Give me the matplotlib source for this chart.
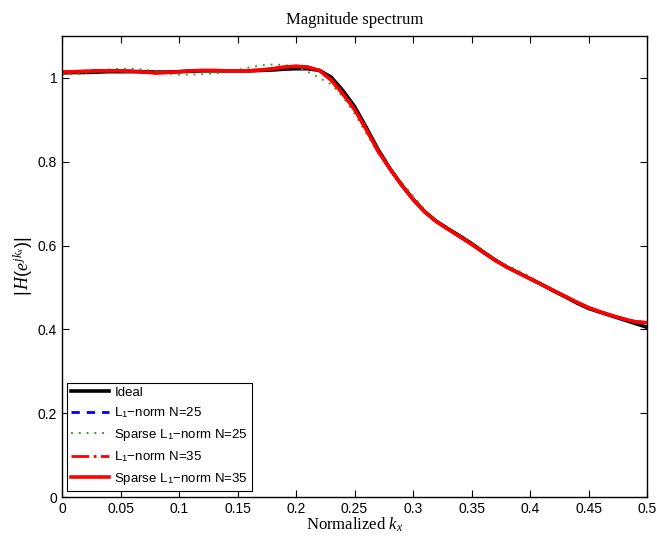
import matplotlib
matplotlib.use("Agg")
import matplotlib.pyplot as plt
import numpy as np

kx = [0.00, 0.01, 0.02, 0.03, 0.04, 0.05, 0.06, 0.07, 0.08, 0.09,
      0.10, 0.11, 0.12, 0.13, 0.14, 0.15, 0.16, 0.17, 0.18, 0.19,
      0.20, 0.21, 0.22, 0.23, 0.24, 0.25, 0.26, 0.27, 0.28, 0.29,
      0.30, 0.31, 0.32, 0.33, 0.34, 0.35, 0.36, 0.37, 0.38, 0.39,
      0.40, 0.41, 0.42, 0.43, 0.44, 0.45, 0.46, 0.47, 0.48, 0.49, 0.50]

ideal = [1.012, 1.013, 1.013, 1.014, 1.015, 1.015, 1.015, 1.015, 1.014, 1.014,
         1.015, 1.016, 1.017, 1.017, 1.017, 1.017, 1.017, 1.018, 1.019, 1.021,
         1.022, 1.022, 1.018, 1.002, 0.970, 0.932, 0.882, 0.830, 0.785, 0.746,
         0.711, 0.681, 0.658, 0.640, 0.623, 0.605, 0.585, 0.566, 0.549, 0.535,
         0.521, 0.507, 0.492, 0.478, 0.463, 0.450, 0.441, 0.432, 0.423, 0.414, 0.405]

l1_n25 = [1.014, 1.015, 1.016, 1.017, 1.017, 1.017, 1.016, 1.014, 1.012, 1.013,
          1.015, 1.017, 1.018, 1.018, 1.017, 1.017, 1.017, 1.019, 1.022, 1.026,
          1.028, 1.026, 1.018, 0.995, 0.962, 0.925, 0.877, 0.826, 0.784, 0.745,
          0.710, 0.680, 0.657, 0.639, 0.621, 0.603, 0.584, 0.565, 0.549, 0.535,
          0.521, 0.507, 0.493, 0.479, 0.465, 0.452, 0.442, 0.433, 0.425, 0.418, 0.416]

sparse_n25 = [1.008, 1.009, 1.012, 1.016, 1.020, 1.022, 1.022, 1.020, 1.016, 1.011,
              1.008, 1.008, 1.009, 1.011, 1.014, 1.019, 1.025, 1.030, 1.032, 1.031,
              1.026, 1.015, 1.000, 0.985, 0.955, 0.915, 0.868, 0.822, 0.785, 0.752,
              0.718, 0.686, 0.660, 0.640, 0.624, 0.608, 0.588, 0.568, 0.553, 0.540,
              0.526, 0.510, 0.494, 0.479, 0.464, 0.450, 0.440, 0.432, 0.425, 0.420, 0.418]

l1_n35 = [1.014, 1.015, 1.016, 1.017, 1.017, 1.017, 1.016, 1.014, 1.012, 1.013,
          1.015, 1.017, 1.018, 1.018, 1.017, 1.017, 1.017, 1.019, 1.022, 1.026,
          1.028, 1.026, 1.018, 0.995, 0.962, 0.925, 0.877, 0.826, 0.784, 0.745,
          0.710, 0.680, 0.657, 0.639, 0.621, 0.603, 0.584, 0.565, 0.549, 0.535,
          0.521, 0.507, 0.493, 0.479, 0.465, 0.452, 0.442, 0.433, 0.425, 0.418, 0.416]

sparse_n35 = [1.014, 1.015, 1.016, 1.017, 1.017, 1.017, 1.016, 1.014, 1.012, 1.013,
              1.015, 1.017, 1.018, 1.018, 1.017, 1.017, 1.017, 1.019, 1.022, 1.026,
              1.028, 1.026, 1.018, 0.995, 0.962, 0.925, 0.877, 0.826, 0.784, 0.745,
              0.710, 0.680, 0.657, 0.639, 0.621, 0.603, 0.584, 0.565, 0.549, 0.535,
              0.521, 0.507, 0.493, 0.479, 0.465, 0.452, 0.442, 0.433, 0.425, 0.418, 0.416]

labels = ["Ideal", r"L$_1$−norm N=25", r"Sparse L$_1$−norm N=25",
          r"L$_1$−norm N=35", r"Sparse L$_1$−norm N=35"]

xticks = [0, 0.05, 0.1, 0.15, 0.2, 0.25, 0.3, 0.35, 0.4, 0.45, 0.5]
xticklabels = ["0", "0.05", "0.1", "0.15", "0.2", "0.25", "0.3", "0.35", "0.4", "0.45", "0.5"]
yticks = [0, 0.2, 0.4, 0.6, 0.8, 1.0]
yticklabels = ["0", "0.2", "0.4", "0.6", "0.8", "1"]

plt.rcParams['font.family'] = ['Liberation Sans', 'DejaVu Sans']
plt.rcParams['mathtext.fontset'] = 'custom'
plt.rcParams['mathtext.rm'] = 'Liberation Sans'
plt.rcParams['mathtext.it'] = 'Liberation Serif:italic'

fig = plt.figure(figsize=(6.57, 5.38), dpi=100)
ax = fig.add_axes([0.0944, 0.0762, 0.8904, 0.8568])

ax.plot(kx, ideal, color='black', lw=2.6, label=labels[0])
ax.plot(kx, l1_n25, color='blue', lw=2.0, ls=(0, (3, 2.5)), label=labels[1])
ax.plot(kx, sparse_n25, color='#33a033', lw=1.4, ls=(0, (1, 3)), label=labels[2])
ax.plot(kx, l1_n35, color='red', lw=2.0, ls='-.', label=labels[3])
ax.plot(kx, sparse_n35, color='red', lw=2.6, label=labels[4])

ax.set_xlim(0, 0.5)
ax.set_ylim(0, 1.1)
ax.set_xticks(xticks)
ax.set_xticklabels(xticklabels)
ax.set_yticks(yticks)
ax.set_yticklabels(yticklabels)
ax.tick_params(direction='in', top=True, right=True, labelsize=10, length=5, width=0.8)
for s in ax.spines.values():
    s.set_linewidth(1.0)

ax.set_title("Magnitude spectrum", family='Liberation Serif', fontsize=12, pad=9)
ax.set_xlabel(r"Normalized $k_x$", family='Liberation Serif', fontsize=12, labelpad=0)
ax.set_ylabel(r"$|\,H(e^{jk_x})|$", fontsize=13, labelpad=2)

leg = ax.legend(loc='lower left', bbox_to_anchor=(0.0085, 0.013), borderaxespad=0,
                fontsize=9.5, handlelength=2.9, fancybox=False, framealpha=1,
                edgecolor='black', borderpad=0.3, labelspacing=0.5, handletextpad=0.4)
leg.get_frame().set_linewidth(0.8)

fig.savefig("out.png", dpi=100)
